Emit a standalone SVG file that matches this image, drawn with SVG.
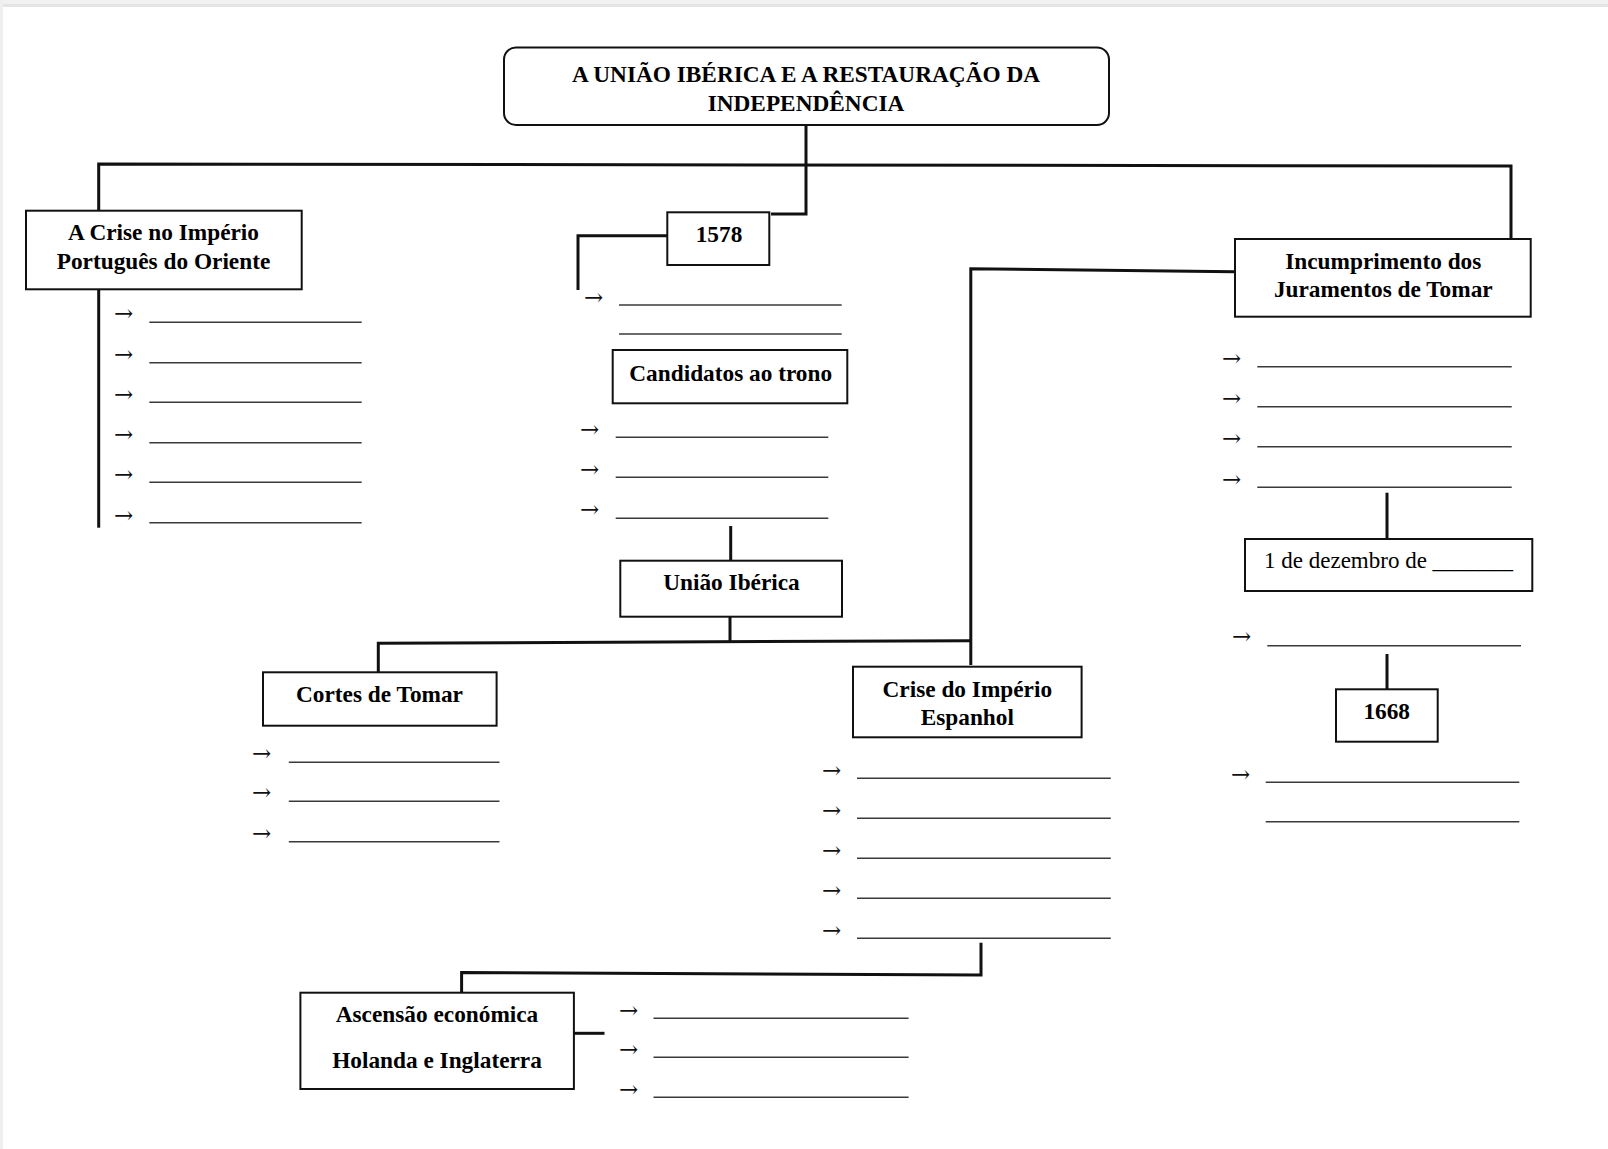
<svg xmlns="http://www.w3.org/2000/svg" width="1608" height="1149" viewBox="0 0 1608 1149">
  <style>
    .box { fill: #ffffff; stroke: #111111; stroke-width: 2; }
    .conn { fill: none; stroke: #111111; stroke-width: 3; stroke-linejoin: miter; }
    .blank { stroke: #3a3a3a; stroke-width: 1.6; }
    .lbl { font-family: "Liberation Serif", "Times New Roman", serif; font-size: 23.3px; font-weight: bold; fill: #000000; text-anchor: middle; }
    .reg { font-family: "Liberation Serif", "Times New Roman", serif; font-size: 23px; fill: #000000; }
    .arr { font-family: "DejaVu Serif", "Liberation Serif", serif; font-size: 23px; fill: #111111; }
  </style>

  <!-- page edge shading -->
  <rect x="0" y="0" width="1608" height="1149" fill="#ffffff"/>
  <rect x="0" y="0" width="1608" height="4" fill="#f1f1f1"/>
  <rect x="0" y="4" width="1608" height="3" fill="#e4e4e4"/>
  <rect x="0" y="0" width="3" height="1149" fill="#efefef"/>

  <!-- connectors -->
  <g id="connectors">
    <path class="conn" d="M806,125 V214 H771"/>
    <path class="conn" d="M98.7,210.7 V164 L1511,166 V239"/>
    <path class="conn" d="M667,235.7 H578 V290"/>
    <path class="conn" d="M98.7,289 V527.7"/>
    <path class="conn" d="M730.7,526 V560.7"/>
    <path class="conn" d="M730,616.7 V641"/>
    <path class="conn" d="M378.3,672.3 V643.3 L970.8,640.7"/>
    <path class="conn" d="M970.8,665 V268.7 L1234.7,271.8"/>
    <path class="conn" d="M981,942.7 V975 L461.6,972.5 V992.7"/>
    <path class="conn" d="M574,1033.3 H604.5"/>
    <path class="conn" d="M1387,492.7 V539"/>
    <path class="conn" d="M1387,654 V689.3"/>
  </g>

  <!-- title -->
  <g id="title">
    <rect class="box" x="504" y="47.5" width="605" height="77.5" rx="12" ry="12"/>
    <text class="lbl" x="806" y="82">A UNIÃO IBÉRICA E A RESTAURAÇÃO DA</text>
    <text class="lbl" x="806" y="110.5">INDEPENDÊNCIA</text>
  </g>

  <!-- A Crise no Império Português do Oriente -->
  <g id="crise-oriente">
    <rect class="box" x="26" y="210.7" width="275.7" height="78.6"/>
    <text class="lbl" x="163.5" y="240">A Crise no Império</text>
    <text class="lbl" x="163.5" y="269">Português do Oriente</text>
    <g class="arr">
      <text x="114" y="321">→</text>
      <text x="114" y="361.5">→</text>
      <text x="114" y="401.8">→</text>
      <text x="114" y="442">→</text>
      <text x="114" y="482">→</text>
      <text x="114" y="522.5">→</text>
    </g>
    <g class="blank">
      <line x1="149.3" y1="322.3" x2="361.7" y2="322.3"/>
      <line x1="149.3" y1="362.7" x2="361.7" y2="362.7"/>
      <line x1="149.3" y1="402.3" x2="361.7" y2="402.3"/>
      <line x1="149.3" y1="442.7" x2="361.7" y2="442.7"/>
      <line x1="149.3" y1="482.3" x2="361.7" y2="482.3"/>
      <line x1="149.3" y1="522.7" x2="361.7" y2="522.7"/>
    </g>
  </g>

  <!-- 1578 -->
  <g id="ano-1578">
    <rect class="box" x="667.3" y="212.3" width="102" height="52.7"/>
    <text class="lbl" x="719" y="242">1578</text>
    <text class="arr" x="584" y="304.5">→</text>
    <g class="blank">
      <line x1="619" y1="305" x2="841.7" y2="305"/>
      <line x1="619" y1="334" x2="841.7" y2="334"/>
    </g>
  </g>

  <!-- Candidatos ao trono -->
  <g id="candidatos">
    <rect class="box" x="612.7" y="350" width="234.6" height="53.3"/>
    <text class="lbl" x="730.7" y="381">Candidatos ao trono</text>
    <g class="arr">
      <text x="580" y="436.8">→</text>
      <text x="580" y="477">→</text>
      <text x="580" y="517">→</text>
    </g>
    <g class="blank">
      <line x1="615.7" y1="437.3" x2="828.3" y2="437.3"/>
      <line x1="615.7" y1="477.3" x2="828.3" y2="477.3"/>
      <line x1="615.7" y1="518.3" x2="828.3" y2="518.3"/>
    </g>
  </g>

  <!-- União Ibérica -->
  <g id="uniao-iberica">
    <rect class="box" x="620.3" y="560.7" width="221.7" height="56"/>
    <text class="lbl" x="731.5" y="590">União Ibérica</text>
  </g>

  <!-- Cortes de Tomar -->
  <g id="cortes-tomar">
    <rect class="box" x="263" y="672.3" width="233.6" height="53.4"/>
    <text class="lbl" x="379.5" y="701.7">Cortes de Tomar</text>
    <g class="arr">
      <text x="252" y="761">→</text>
      <text x="252" y="800.4">→</text>
      <text x="252" y="841">→</text>
    </g>
    <g class="blank">
      <line x1="288.8" y1="762.3" x2="499.5" y2="762.3"/>
      <line x1="288.8" y1="801.3" x2="499.5" y2="801.3"/>
      <line x1="288.8" y1="841.7" x2="499.5" y2="841.7"/>
    </g>
  </g>

  <!-- Crise do Império Espanhol -->
  <g id="crise-espanhol">
    <rect class="box" x="853" y="666.7" width="228.6" height="70.6"/>
    <text class="lbl" x="967.3" y="696.7">Crise do Império</text>
    <text class="lbl" x="967.3" y="725">Espanhol</text>
    <g class="arr">
      <text x="822" y="777.7">→</text>
      <text x="822" y="817.7">→</text>
      <text x="822" y="857.7">→</text>
      <text x="822" y="898.4">→</text>
      <text x="822" y="937.7">→</text>
    </g>
    <g class="blank">
      <line x1="857" y1="778.3" x2="1110.8" y2="778.3"/>
      <line x1="857" y1="818.3" x2="1110.8" y2="818.3"/>
      <line x1="857" y1="858.3" x2="1110.8" y2="858.3"/>
      <line x1="857" y1="898.3" x2="1110.8" y2="898.3"/>
      <line x1="857" y1="938.3" x2="1110.8" y2="938.3"/>
    </g>
  </g>

  <!-- Ascensão económica Holanda e Inglaterra -->
  <g id="ascensao">
    <rect class="box" x="300.4" y="992.7" width="273.5" height="96.3"/>
    <text class="lbl" x="437" y="1021.7">Ascensão económica</text>
    <text class="lbl" x="437" y="1067.7">Holanda e Inglaterra</text>
    <g class="arr">
      <text x="619" y="1017.7">→</text>
      <text x="619" y="1057">→</text>
      <text x="619" y="1097">→</text>
    </g>
    <g class="blank">
      <line x1="653.5" y1="1018.3" x2="908.6" y2="1018.3"/>
      <line x1="653.5" y1="1057.3" x2="908.6" y2="1057.3"/>
      <line x1="653.5" y1="1097.3" x2="908.6" y2="1097.3"/>
    </g>
  </g>

  <!-- Incumprimento dos Juramentos de Tomar -->
  <g id="incumprimento">
    <rect class="box" x="1235" y="239" width="295.7" height="77.7"/>
    <text class="lbl" x="1383.3" y="269">Incumprimento dos</text>
    <text class="lbl" x="1383.3" y="297.3">Juramentos de Tomar</text>
    <g class="arr">
      <text x="1222" y="366">→</text>
      <text x="1222" y="406">→</text>
      <text x="1222" y="446">→</text>
      <text x="1222" y="486.7">→</text>
    </g>
    <g class="blank">
      <line x1="1257.3" y1="366.7" x2="1511.7" y2="366.7"/>
      <line x1="1257.3" y1="406.7" x2="1511.7" y2="406.7"/>
      <line x1="1257.3" y1="446.7" x2="1511.7" y2="446.7"/>
      <line x1="1257.3" y1="487.3" x2="1511.7" y2="487.3"/>
    </g>
  </g>

  <!-- 1 de dezembro de ... -->
  <g id="dezembro">
    <rect class="box" x="1245" y="539" width="287.3" height="52"/>
    <text class="reg" x="1264" y="568.3">1 de dezembro de _______</text>
    <text class="arr" x="1232" y="644.4">→</text>
    <line class="blank" x1="1267.3" y1="645.7" x2="1521" y2="645.7"/>
  </g>

  <!-- 1668 -->
  <g id="ano-1668">
    <rect class="box" x="1336" y="689.3" width="101.7" height="52.4"/>
    <text class="lbl" x="1386.7" y="719">1668</text>
    <text class="arr" x="1231" y="781.7">→</text>
    <g class="blank">
      <line x1="1265.7" y1="782.3" x2="1519.3" y2="782.3"/>
      <line x1="1265.7" y1="821.7" x2="1519.3" y2="821.7"/>
    </g>
  </g>
</svg>
